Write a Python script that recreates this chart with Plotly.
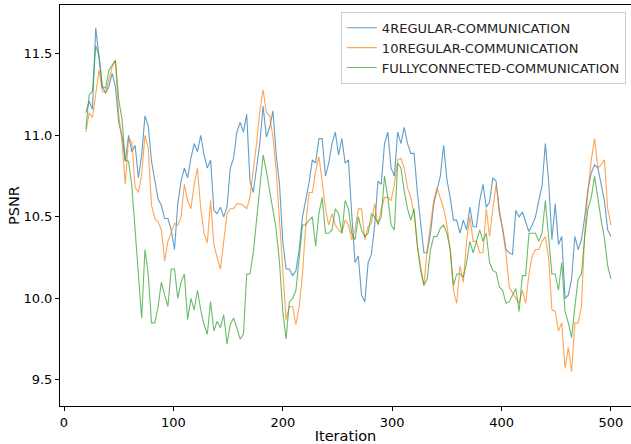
import plotly.graph_objects as go

# Iterations sampled every 3 steps
iterations = list(range(20, 501, 3))

regular4 = [
    11.14, 11.21, 11.16, 11.66, 11.48, 11.30, 11.26, 11.30, 11.38, 11.30,
    11.08, 11.00, 10.84, 11.00, 10.90, 10.94, 10.74, 10.88, 11.12, 11.06,
    10.84, 10.72, 10.61, 10.57, 10.49, 10.49, 10.42,
    10.30, 10.58, 10.72, 10.80, 10.74, 10.86, 10.95, 10.90, 11.00, 10.88,
    10.80, 10.85, 10.54, 10.52, 10.56, 10.50, 10.56, 10.80, 10.86, 11.02,
    11.08, 11.02, 11.13,
    10.72, 10.65, 10.80, 10.95, 11.18, 10.99, 11.05, 11.15, 10.88, 10.70,
    10.35, 10.18, 10.18, 10.14, 10.17, 10.30, 10.50, 10.60, 10.71, 10.85,
    10.83, 10.98, 10.98, 10.75, 10.83, 10.95, 11.02, 10.88, 10.98, 10.83,
    10.85, 10.52, 10.22, 10.26, 10.02, 9.98, 10.22, 10.27, 10.45, 10.72,
    10.70, 10.95, 11.02, 10.80, 10.75, 11.02, 10.95, 11.05, 10.95, 10.89,
    10.89, 10.65, 10.47, 10.28, 10.28, 10.40, 10.58, 10.66, 10.75, 10.94,
    10.73, 10.62, 10.48, 10.48, 10.40, 10.48, 10.42, 10.56, 10.44, 10.44,
    10.60, 10.70, 10.56, 10.59, 10.74, 10.72, 10.52, 10.43, 10.30, 10.28,
    10.27, 10.54, 10.50, 10.53, 10.47, 10.41, 10.45, 10.50, 10.60, 10.69,
    10.95, 10.72, 10.36, 10.58, 10.33, 10.38, 10.00, 10.02, 10.12, 10.38,
    10.30, 10.36, 10.50, 10.67, 10.77, 10.82, 10.80, 10.70, 10.60, 10.42,
    10.38,
]

regular10 = [
    11.02, 11.14, 11.11, 11.27, 11.40, 11.27, 11.26, 11.34, 11.42, 11.46,
    11.13, 10.96, 10.70, 10.98, 10.96, 10.68, 10.65, 10.76, 11.00, 10.92,
    10.57, 10.49, 10.47, 10.42, 10.23, 10.35, 10.40,
    10.46, 10.45, 10.50, 10.70, 10.60, 10.55, 10.70, 10.80, 10.55, 10.40,
    10.34, 10.60, 10.33, 10.25, 10.18, 10.35, 10.52, 10.55, 10.55, 10.58,
    10.58, 10.57, 10.55,
    10.62, 10.78, 10.95, 11.15, 11.28, 11.14, 11.12, 10.99, 10.78, 10.48,
    10.20, 9.87, 9.95, 9.95, 9.84, 9.95, 10.15, 10.45, 10.65, 10.65,
    10.78, 10.87, 10.72, 10.55, 10.45, 10.52, 10.45, 10.42, 10.40, 10.48,
    10.45, 10.36, 10.42, 10.55, 10.55, 10.36, 10.44, 10.46, 10.58, 10.45,
    10.55, 10.62, 10.62, 10.60, 10.70, 10.85, 10.86, 10.80, 10.68, 10.62,
    10.52, 10.33, 10.20, 10.08, 10.30, 10.45, 10.60, 10.68, 10.62, 10.55,
    10.45, 10.30, 10.05, 9.97, 10.20, 10.10, 10.35, 10.50, 10.35, 10.35,
    10.28, 10.28, 10.55, 10.38, 10.55, 10.70, 10.55, 10.40, 10.28, 10.07,
    10.03, 10.00, 9.97, 10.05, 9.97, 10.15, 10.26, 10.30, 10.30, 10.35,
    10.38, 10.25, 9.93, 9.92, 9.80, 9.85, 9.57, 9.70, 9.55, 9.85,
    9.85, 9.95, 10.40, 10.66, 10.85, 10.98, 10.80, 10.82, 10.85, 10.55,
    10.45,
]

fully_connected = [
    11.04, 11.25, 11.27, 11.55, 11.49, 11.30, 11.29, 11.40, 11.43, 11.46,
    11.22, 11.10, 10.85, 10.84, 10.69, 10.42, 10.15, 9.88, 10.30, 10.15,
    9.85, 9.85, 9.95, 10.10, 10.02, 9.95, 10.18,
    10.18, 10.00, 10.10, 10.15, 9.87, 10.00, 9.93, 10.05, 9.93, 9.84,
    9.78, 9.98, 9.80, 9.86, 9.82, 9.90, 9.72, 9.84, 9.88, 9.82,
    9.75, 9.78, 10.15,
    10.15, 10.28, 10.48, 10.68, 10.88, 10.78, 10.66, 10.55, 10.42, 10.22,
    9.92, 9.75, 9.98, 10.00, 10.05, 10.25, 10.45, 10.45, 10.48, 10.50,
    10.32, 10.52, 10.62, 10.40, 10.40, 10.42, 10.55, 10.52, 10.40, 10.60,
    10.55, 10.40, 10.36, 10.50, 10.42, 10.38, 10.40, 10.52, 10.50, 10.46,
    10.50, 10.75, 10.62, 10.45, 10.42, 10.83, 10.80, 10.66, 10.55, 10.48,
    10.55, 10.32, 10.17, 10.08, 10.12, 10.30, 10.38, 10.38, 10.43, 10.45,
    10.40, 10.30, 10.08, 10.15, 10.15, 10.13, 10.22, 10.35, 10.28, 10.35,
    10.42, 10.35, 10.40, 10.22, 10.17, 10.16, 10.07, 10.05, 9.97, 9.98,
    10.02, 10.06, 9.92, 10.14, 10.14, 10.40, 10.40, 10.40, 10.35, 10.40,
    10.60, 10.38, 10.15, 10.15, 10.05, 10.22, 9.92, 9.85, 9.76, 9.95,
    10.12, 10.15, 10.38, 10.55, 10.62, 10.75, 10.60, 10.48, 10.37, 10.20,
    10.12,
]

series_names = ["4REGULAR-COMMUNICATION", "10REGULAR-COMMUNICATION",
                "FULLYCONNECTED-COMMUNICATION"]
series_values = [regular4, regular10, fully_connected]
series_colors = ["#1f77b4", "#ff7f0e", "#2ca02c"]

x_ticks = [0, 100, 200, 300, 400, 500]
y_ticks = [9.5, 10.0, 10.5, 11.0, 11.5]

FONT = "DejaVu Sans"

fig = go.Figure()
for name, vals, col in zip(series_names, series_values, series_colors):
    fig.add_trace(go.Scatter(
        x=iterations, y=vals, mode="lines", name=name,
        line=dict(color=col, width=1.1), opacity=0.7,
    ))

fig.update_layout(
    width=631, height=444,
    margin=dict(l=60, r=0, t=5, b=38),
    plot_bgcolor="white", paper_bgcolor="white",
    font=dict(family=FONT, size=13, color="black"),
    showlegend=True,
    legend=dict(
        x=0.991, y=0.983, xanchor="right", yanchor="top",
        bgcolor="rgba(255,255,255,0.8)", bordercolor="#cccccc", borderwidth=1,
        font=dict(family=FONT, size=13, color="#222222"),
        itemwidth=30, tracegroupgap=0,
    ),
)

fig.update_xaxes(
    range=[-3.66, 518.3], tickvals=x_ticks,
    showline=True, linecolor="black", linewidth=1, mirror=True,
    ticks="outside", ticklen=4, tickcolor="black", tickwidth=1,
    showgrid=False, zeroline=False,
    tickfont=dict(family=FONT, size=13),
    title=dict(text="Iteration", font=dict(family=FONT, size=14.5), standoff=2),
)
fig.update_yaxes(
    range=[9.34, 11.80], tickvals=y_ticks, tickformat=".1f",
    showline=True, linecolor="black", linewidth=1, mirror=False,
    ticks="outside", ticklen=4, tickcolor="black", tickwidth=1,
    showgrid=False, zeroline=False,
    tickfont=dict(family=FONT, size=13),
    title=dict(text="PSNR", font=dict(family=FONT, size=14.5), standoff=0),
)

fig.write_html("out.html")
